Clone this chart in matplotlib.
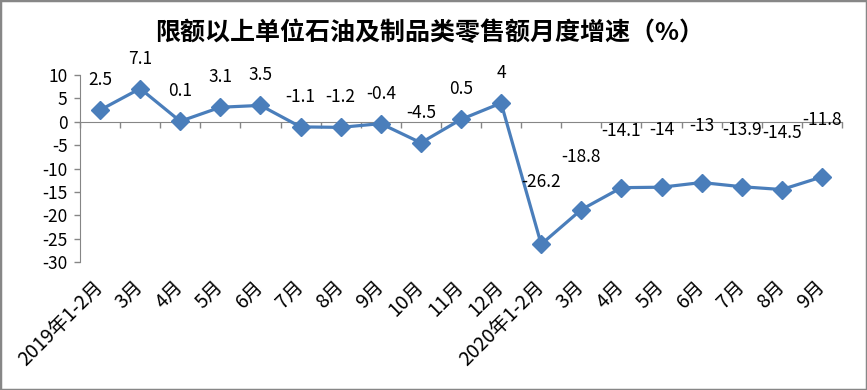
import matplotlib
matplotlib.use("Agg")
import matplotlib.pyplot as plt
from matplotlib.patches import Rectangle
import numpy as np

plt.rcParams['font.family'] = ['Noto Sans CJK SC', 'DejaVu Sans']

title = "限额以上单位石油及制品类零售额月度增速（%）"
categories = ["2019年1-2月", "3月", "4月", "5月", "6月", "7月", "8月", "9月", "10月", "11月", "12月",
              "2020年1-2月", "3月", "4月", "5月", "6月", "7月", "8月", "9月"]
values = [2.5, 7.1, 0.1, 3.1, 3.5, -1.1, -1.2, -0.4, -4.5, 0.5, 4,
          -26.2, -18.8, -14.1, -14, -13, -13.9, -14.5, -11.8]
value_labels = ["2.5", "7.1", "0.1", "3.1", "3.5", "-1.1", "-1.2", "-0.4", "-4.5", "0.5", "4",
                "-26.2", "-18.8", "-14.1", "-14", "-13", "-13.9", "-14.5", "-11.8"]
yticks = [10, 5, 0, -5, -10, -15, -20, -25, -30]

# label offsets (layout, in pixels above the point)
label_offsets = [30] * 11 + [62, 53] + [57] * 6

fig = plt.figure(figsize=(8.67, 3.90), dpi=100)
ax = fig.add_axes([80/867, 1 - 262/390, (842 - 80)/867, (262 - 75)/390])

color = '#4A7EBB'
x = np.arange(len(values))
ax.plot(x, values, color=color, lw=2.3, marker='D', markersize=9, zorder=3, clip_on=False)

for xi, v, lab, off in zip(x, values, value_labels, label_offsets):
    ax.annotate(lab, (xi, v), xytext=(0, off * 72 / 100), textcoords='offset points',
                ha='center', va='center', fontsize=12.5, color='black', zorder=4)

ax.set_xlim(-0.5, len(values) - 0.5)
ax.set_ylim(-30, 10)
ax.set_yticks(yticks)
ax.set_yticklabels([str(t) for t in yticks], fontsize=12.5)
ax.tick_params(axis='y', direction='out', length=4, color='#868686', width=1, pad=5)

for s in ['top', 'right']:
    ax.spines[s].set_visible(False)
ax.spines['left'].set_color('#868686')
ax.spines['bottom'].set_position(('data', 0))
ax.spines['bottom'].set_color('#868686')
ax.spines['bottom'].set_zorder(1)
ax.set_xticks(np.arange(len(values) + 1) - 0.5)
ax.set_xticklabels([])
ax.tick_params(axis='x', direction='out', length=4, color='#868686', width=1)

sec = ax.secondary_xaxis(0)
sec.set_xticks(x)
sec.set_xticklabels(categories, rotation=45, ha='right', va='center', rotation_mode='anchor', fontsize=14)
sec.tick_params(axis='x', length=0, pad=16)
sec.spines['bottom'].set_visible(False)

fig.text(430/867, 1 - 33/390, title, ha='center', va='center', fontsize=18, fontweight='bold')

fig.patches.append(Rectangle((0, 0), 1, 1, transform=fig.transFigure, fill=False,
                             edgecolor='#878787', linewidth=2.5))

fig.savefig('out.png', dpi=100)
